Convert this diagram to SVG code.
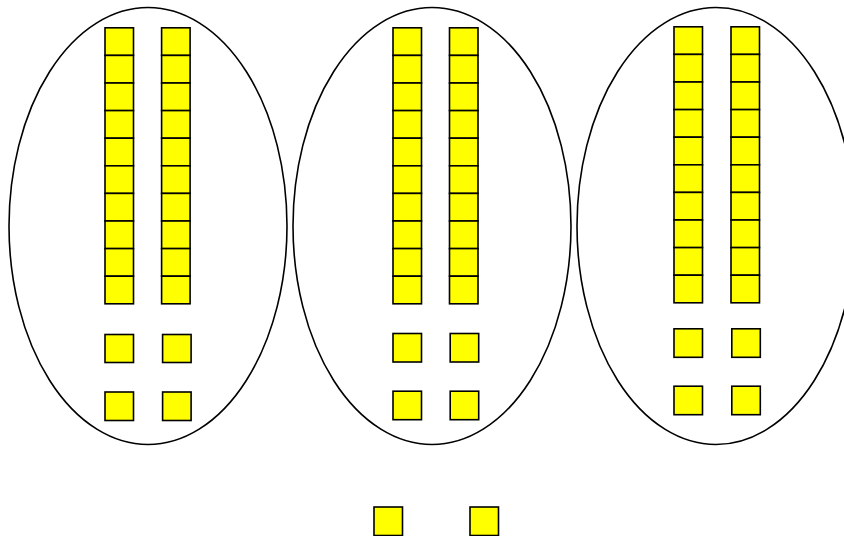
<svg xmlns="http://www.w3.org/2000/svg" width="844" height="536" viewBox="0 0 844 536">
<style>
.e{fill:none;stroke:#000;stroke-width:1.6}
.b{fill:#ffff00;stroke:#000;stroke-width:1.6}
</style>
<defs>
<g id="col">
<rect class="b" x="0" y="0" width="28.5" height="27.6"/>
<rect class="b" x="0" y="27.6" width="28.5" height="27.6"/>
<rect class="b" x="0" y="55.2" width="28.5" height="27.6"/>
<rect class="b" x="0" y="82.8" width="28.5" height="27.6"/>
<rect class="b" x="0" y="110.4" width="28.5" height="27.6"/>
<rect class="b" x="0" y="138" width="28.5" height="27.6"/>
<rect class="b" x="0" y="165.6" width="28.5" height="27.6"/>
<rect class="b" x="0" y="193.2" width="28.5" height="27.6"/>
<rect class="b" x="0" y="220.8" width="28.5" height="27.6"/>
<rect class="b" x="0" y="248.4" width="28.5" height="27.6"/>
</g>
</defs>
<g id="group1">
<ellipse class="e" cx="148" cy="226" rx="139" ry="218.5"/>
<use href="#col" x="105" y="27.8"/>
<use href="#col" x="161.6" y="27.8"/>
<rect class="b" x="105" y="334.5" width="28.5" height="28"/>
<rect class="b" x="162.6" y="334.5" width="28.5" height="28"/>
<rect class="b" x="105" y="392" width="28.5" height="28.5"/>
<rect class="b" x="162.6" y="392" width="28.5" height="28.5"/>
</g>
<g id="group2">
<ellipse class="e" cx="432" cy="226" rx="139" ry="218.5"/>
<use href="#col" x="393" y="27.8"/>
<use href="#col" x="449.5" y="27.8"/>
<rect class="b" x="393" y="333.5" width="28.5" height="28.5"/>
<rect class="b" x="450.2" y="333.5" width="28.5" height="28.5"/>
<rect class="b" x="393" y="391.2" width="28.5" height="28.5"/>
<rect class="b" x="450.2" y="391.2" width="28.5" height="28.5"/>
</g>
<g id="group3">
<ellipse class="e" cx="716" cy="226" rx="139" ry="218.5"/>
<use href="#col" x="674" y="26.8"/>
<use href="#col" x="731" y="26.8"/>
<rect class="b" x="674" y="328.8" width="28.5" height="28.5"/>
<rect class="b" x="731.8" y="328.8" width="28.5" height="28.5"/>
<rect class="b" x="674" y="386.2" width="28.5" height="28.5"/>
<rect class="b" x="731.8" y="386.2" width="28.5" height="28.5"/>
</g>
<g id="remainder">
<rect class="b" x="374" y="507" width="28.5" height="28.5"/>
<rect class="b" x="470" y="507" width="28.5" height="28.5"/>
</g>
</svg>
